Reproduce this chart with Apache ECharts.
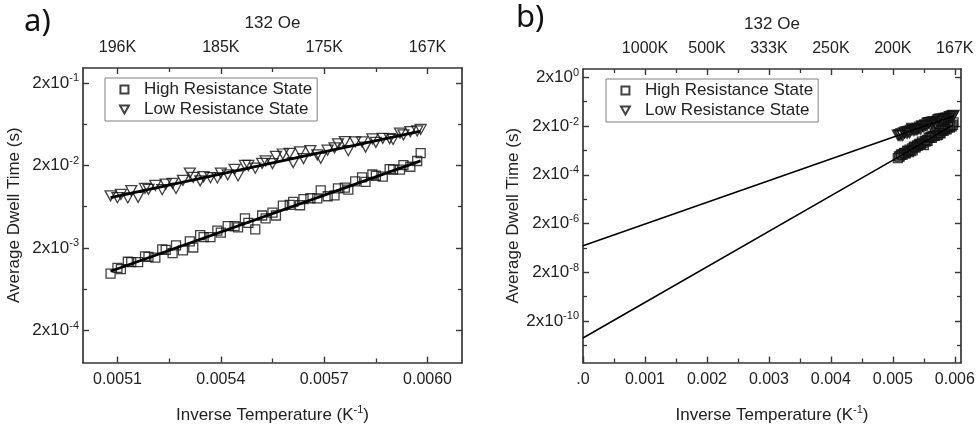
<!DOCTYPE html>
<html>
<head>
<meta charset="utf-8">
<script src="https://cdn.jsdelivr.net/npm/echarts@6/dist/echarts.min.js"></script>
<style>
  html, body { margin: 0; padding: 0; background: #fff; }
  #chart { width: 978px; height: 429px; }
</style>
</head>
<body>
<div id="chart"></div>
<script>
// Inverse temperature (1/K) of each dwell-time measurement at 132 Oe
const invTemp = [
  0.00508, 0.00510, 0.00511, 0.00513, 0.00514, 0.00516, 0.00518, 0.00519, 0.00521, 0.00523,
  0.00524, 0.00526, 0.00527, 0.00529, 0.00531, 0.00532, 0.00534, 0.00535, 0.00537, 0.00539,
  0.00540, 0.00542, 0.00544, 0.00545, 0.00547, 0.00548, 0.00550, 0.00552, 0.00553, 0.00555,
  0.00556, 0.00558, 0.00560, 0.00561, 0.00563, 0.00564, 0.00566, 0.00568, 0.00569, 0.00571,
  0.00573, 0.00574, 0.00576, 0.00577, 0.00579, 0.00581, 0.00582, 0.00584, 0.00585, 0.00587,
  0.00589, 0.00590, 0.00592, 0.00593, 0.00595, 0.00597, 0.00598
];
// Average dwell time (s) in the high resistance state
const highState = [
  0.000973, 0.001142, 0.001104, 0.001357, 0.001341, 0.001340, 0.001574, 0.001556, 0.001519, 0.001912,
  0.001890, 0.001722, 0.002144, 0.001866, 0.002403, 0.002021, 0.002853, 0.002694, 0.002693, 0.003235,
  0.003053, 0.003670, 0.003668, 0.003543, 0.004561, 0.004018, 0.003341, 0.004937, 0.004555, 0.005350,
  0.004933, 0.006501, 0.006649, 0.007205, 0.006569, 0.007805, 0.007983, 0.007980, 0.009930, 0.008446,
  0.008639, 0.01050, 0.01075, 0.01014, 0.01276, 0.01431, 0.01261, 0.01550, 0.01497, 0.01463,
  0.01798, 0.01777, 0.01776, 0.02016, 0.01924, 0.02260, 0.02812
];
// Average dwell time (s) in the low resistance state
const lowState = [
  0.00854, 0.00811, 0.00888, 0.00806, 0.00989, 0.00818, 0.01049, 0.01023, 0.01142, 0.01013,
  0.01187, 0.01209, 0.01051, 0.01316, 0.01612, 0.01433, 0.01300, 0.01456, 0.01416, 0.01409,
  0.01614, 0.01534, 0.01793, 0.01488, 0.01998, 0.01993, 0.01850, 0.02114, 0.02261, 0.02099,
  0.02576, 0.02747, 0.02797, 0.02167, 0.02909, 0.02413, 0.03024, 0.02682, 0.02440, 0.03057,
  0.03260, 0.03649, 0.03890, 0.03013, 0.03862, 0.03843, 0.03340, 0.04183, 0.03806, 0.04250,
  0.04229, 0.04123, 0.04933, 0.04700, 0.05130, 0.05224, 0.05456
];
// Arrhenius fits: value at 1/T = 0 and at both ends of the measured range
const fitX = [0, 0.00508, 0.00598];
const fitHigh = [4.0e-11, 1.04e-3, 2.27e-2];
const fitLow = [2.46e-7, 8.15e-3, 5.21e-2];

// Panel a) axes
const ticksA = [0.0051, 0.0054, 0.0057, 0.0060];
const tickLabelsA = ['0.0051', '0.0054', '0.0057', '0.0060'];
const minorTicksA = [0.00525, 0.00555, 0.00585];
const tempLabelsA = ['196K', '185K', '175K', '167K'];
const yTicksA = [2e-1, 2e-2, 2e-3, 2e-4];
const yExpA = ['-1', '-2', '-3', '-4'];
const yMinorA = [6.325e-2, 6.325e-3, 6.325e-4];

// Panel b) axes
const ticksB = [0, 0.001, 0.002, 0.003, 0.004, 0.005, 0.006];
const tickLabelsB = ['.0', '0.001', '0.002', '0.003', '0.004', '0.005', '0.006'];
const minorTicksB = [0.0005, 0.0015, 0.0025, 0.0035, 0.0045, 0.0055];
const tempTicksB = [0.001, 0.002, 0.003, 0.004, 0.005, 0.006];
const tempLabelsB = ['1000K', '500K', '333K', '250K', '200K', '167K'];
const yTicksB = [2, 2e-2, 2e-4, 2e-6, 2e-8, 2e-10];
const yExpB = ['0', '-2', '-4', '-6', '-8', '-10'];
const yMinorB = [2e-1, 2e-3, 2e-5, 2e-7, 2e-9, 2e-11];

const seriesNames = ['High Resistance State', 'Low Resistance State'];
const fieldLabel = '132 Oe';
const xName = 'Inverse Temperature (K';
const yName = 'Average Dwell Time (s)';

const FONT = '"Liberation Sans", Arial, sans-serif';
const FRAME = '#363636';
const TEXT = '#222';

function pick(ticks, labels, v) {
  for (let i = 0; i < ticks.length; i++) {
    if (Math.abs(ticks[i] - v) <= Math.abs(ticks[i]) * 1e-6 + 1e-15) return labels[i];
  }
  return '';
}

const supRich = {
  b: { fontSize: 17, fontFamily: FONT, color: TEXT, lineHeight: 20 },
  s: { fontSize: 11, fontFamily: FONT, color: TEXT, lineHeight: 20, verticalAlign: 'top' }
};
const nameRich = {
  n: { fontSize: 17, fontFamily: FONT, color: TEXT, lineHeight: 22 },
  s: { fontSize: 11, fontFamily: FONT, color: TEXT, lineHeight: 22, verticalAlign: 'top' }
};

function majorAxis(type, grid, position, min, max, ticks, labelOpt, nameOpt) {
  const ax = {
    type: type, gridIndex: grid, position: position, min: min, max: max,
    axisLine: { show: true, onZero: false, lineStyle: { color: FRAME, width: 1.7 } },
    axisTick: { show: true, inside: true, length: 6, customValues: ticks,
                lineStyle: { color: FRAME, width: 1.4 } },
    axisLabel: labelOpt ? Object.assign({ show: true, customValues: ticks,
                color: TEXT, fontSize: 16, fontFamily: FONT }, labelOpt.style) : { show: false },
    splitLine: { show: false },
    minorTick: { show: false }
  };
  if (type === 'log') ax.logBase = 10;
  if (nameOpt) Object.assign(ax, nameOpt);
  return ax;
}
function minorAxis(type, grid, position, min, max, ticks) {
  const ax = {
    type: type, gridIndex: grid, position: position, min: min, max: max,
    axisLine: { show: false, onZero: false },
    axisTick: { show: true, inside: true, length: 4, customValues: ticks,
                lineStyle: { color: FRAME, width: 1.3 } },
    axisLabel: { show: false },
    splitLine: { show: false }
  };
  if (type === 'log') ax.logBase = 10;
  return ax;
}

const xRangeA = [0.0050, 0.0061];
const yRangeA = [8.15e-5, 0.303];
const xRangeB = [0, 0.0061];
const yRangeB = [3.94e-12, 4.4];

const bottomName = {
  name: '{n|' + xName + '}{s|-1}{n|)}', nameLocation: 'middle', nameGap: 42,
  nameTextStyle: { rich: nameRich }
};
const topName = {
  name: fieldLabel, nameLocation: 'middle', nameGap: 36,
  nameTextStyle: { fontSize: 17, fontFamily: FONT, color: TEXT }
};
const leftName = (gap) => ({
  name: yName, nameLocation: 'middle', nameGap: gap,
  nameTextStyle: { fontSize: 17, fontFamily: FONT, color: TEXT }
});
const expLabel = (ticks, exps) => ({
  style: { margin: 4, rich: supRich, formatter: v => '{b|2x10}{s|' + pick(ticks, exps, v) + '}' }
});

const xAxes = [
  majorAxis('value', 0, 'bottom', xRangeA[0], xRangeA[1], ticksA,
    { style: { margin: 9, formatter: v => pick(ticksA, tickLabelsA, v) } }, bottomName),
  minorAxis('value', 0, 'bottom', xRangeA[0], xRangeA[1], minorTicksA),
  majorAxis('value', 0, 'top', xRangeA[0], xRangeA[1], ticksA,
    { style: { margin: 12, formatter: v => pick(ticksA, tempLabelsA, v) } }, topName),
  minorAxis('value', 0, 'top', xRangeA[0], xRangeA[1], minorTicksA),
  majorAxis('value', 1, 'bottom', xRangeB[0], xRangeB[1], ticksB,
    { style: { margin: 9, formatter: v => pick(ticksB, tickLabelsB, v) } }, bottomName),
  minorAxis('value', 1, 'bottom', xRangeB[0], xRangeB[1], minorTicksB),
  majorAxis('value', 1, 'top', xRangeB[0], xRangeB[1], tempTicksB,
    { style: { margin: 12, formatter: v => pick(tempTicksB, tempLabelsB, v) } }, topName),
  minorAxis('value', 1, 'top', xRangeB[0], xRangeB[1], minorTicksB)
];
const yAxes = [
  majorAxis('log', 0, 'left', yRangeA[0], yRangeA[1], yTicksA, expLabel(yTicksA, yExpA), leftName(60)),
  minorAxis('log', 0, 'left', yRangeA[0], yRangeA[1], yMinorA),
  majorAxis('log', 0, 'right', yRangeA[0], yRangeA[1], yTicksA, null, null),
  minorAxis('log', 0, 'right', yRangeA[0], yRangeA[1], yMinorA),
  majorAxis('log', 1, 'left', yRangeB[0], yRangeB[1], yTicksB, expLabel(yTicksB, yExpB), leftName(61)),
  minorAxis('log', 1, 'left', yRangeB[0], yRangeB[1], yMinorB),
  majorAxis('log', 1, 'right', yRangeB[0], yRangeB[1], yTicksB, null, null),
  minorAxis('log', 1, 'right', yRangeB[0], yRangeB[1], yMinorB)
];

const pairs = (xs, ys) => xs.map((x, i) => [x, ys[i]]);
// Hollow open square and down-pointing triangle markers
const markerHigh = { symbol: 'path://M0,0 L10,0 L10,10 L0,10 Z', symbolSize: 9 };
const markerLow = { symbol: 'path://M0,0 L10,0 L5,9 Z', symbolSize: [11, 10] };
const hollow = { color: 'rgba(255,255,255,0)', borderColor: '#111', borderWidth: 1.3 };

function panelSeries(xi, yi, fitFrom, lineWidth) {
  return [
    Object.assign({ type: 'scatter', name: seriesNames[0], xAxisIndex: xi, yAxisIndex: yi,
      data: pairs(invTemp, highState), itemStyle: hollow, z: 2 }, markerHigh),
    Object.assign({ type: 'scatter', name: seriesNames[1], xAxisIndex: xi, yAxisIndex: yi,
      data: pairs(invTemp, lowState), itemStyle: hollow, z: 2 }, markerLow),
    { type: 'line', name: 'fit-high', xAxisIndex: xi, yAxisIndex: yi, symbol: 'none', silent: true,
      data: pairs(fitX.slice(fitFrom), fitHigh.slice(fitFrom)),
      lineStyle: { color: '#000', width: lineWidth }, z: 3 },
    { type: 'line', name: 'fit-low', xAxisIndex: xi, yAxisIndex: yi, symbol: 'none', silent: true,
      data: pairs(fitX.slice(fitFrom), fitLow.slice(fitFrom)),
      lineStyle: { color: '#000', width: lineWidth }, z: 3 }
  ];
}

function legendAt(left, top) {
  return {
    left: left, top: top, orient: 'vertical', data: seriesNames,
    backgroundColor: '#fff', borderColor: '#808080', borderWidth: 1,
    padding: [3, 5, 3, 14], itemGap: 3, itemWidth: 9, itemHeight: 8,
    textStyle: { fontSize: 17, fontFamily: FONT, color: TEXT, padding: [0, 0, 0, 10] },
    selectedMode: false
  };
}

const option = {
  animation: false,
  backgroundColor: '#fff',
  title: [
    { text: 'a)', left: 19, top: 2, textStyle: { fontSize: 31, fontWeight: 'normal', fontFamily: '"Noto Sans", sans-serif', color: '#111' } },
    { text: 'b)', left: 511, top: -2, textStyle: { fontSize: 31, fontWeight: 'normal', fontFamily: '"Noto Sans", sans-serif', color: '#111' } }
  ],
  grid: [
    { left: 83, right: 516, top: 68, bottom: 65 },
    { left: 583, right: 17, top: 69, bottom: 65 }
  ],
  legend: [legendAt(105, 78), legendAt(606, 79)],
  xAxis: xAxes,
  yAxis: yAxes,
  series: panelSeries(0, 0, 1, 2.8).concat(panelSeries(4, 4, 0, 1.5))
};

const chart = echarts.init(document.getElementById('chart'), null, { renderer: 'canvas' });
chart.setOption(option);
</script>
</body>
</html>
